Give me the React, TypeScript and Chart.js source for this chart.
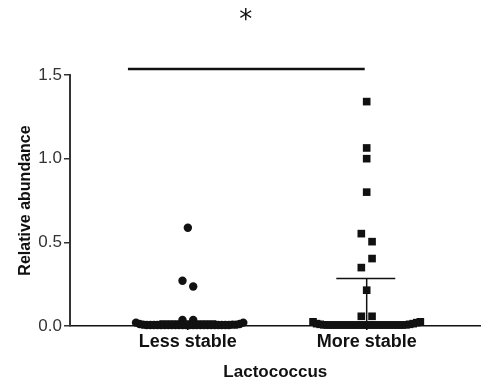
import React, { useEffect, useRef } from "react";
import { Chart, registerables } from "chart.js";

Chart.register(...registerables);

const categories = ["Less stable", "More stable"];
const categoryPositions = [1, 2];

// Less stable group (circles)
const lessStableX = [
  1.0, 0.97, 1.03, 0.97, 1.03,
  0.71, 0.73, 0.75, 0.77, 0.79, 0.81, 0.83, 0.85, 0.87, 0.89, 0.91, 0.93, 0.95, 0.97, 0.99, 1.01,
  1.03, 1.05, 1.07, 1.09, 1.11, 1.13, 1.15, 1.17, 1.19, 1.21, 1.23, 1.25, 1.27, 1.29, 1.31,
];
const lessStableY = [
  0.587, 0.27, 0.236, 0.036, 0.036,
  0.02, 0.012, 0.008, 0.006, 0.006, 0.006, 0.006, 0.006, 0.006, 0.006, 0.006, 0.006, 0.006, 0.006, 0.006, 0.006,
  0.006, 0.006, 0.006, 0.006, 0.006, 0.006, 0.006, 0.006, 0.006, 0.006, 0.006, 0.008, 0.008, 0.012, 0.02,
];

// More stable group (squares)
const moreStableX = [
  2.0, 2.0, 2.0, 2.0, 1.97, 2.03, 2.03, 1.97, 2.0, 1.97, 2.03,
  1.7, 1.72, 1.74, 1.76, 1.78, 1.8, 1.82, 1.84, 1.86, 1.88, 1.9, 1.92, 1.94, 1.96, 1.98, 2.0,
  2.02, 2.04, 2.06, 2.08, 2.1, 2.12, 2.14, 2.16, 2.18, 2.2, 2.22, 2.24, 2.26, 2.28, 2.3,
];
const moreStableY = [
  1.341, 1.064, 1.0, 0.8, 0.552, 0.504, 0.403, 0.349, 0.214, 0.058, 0.058,
  0.025, 0.014, 0.01, 0.007, 0.006, 0.006, 0.006, 0.006, 0.006, 0.006, 0.006, 0.006, 0.006, 0.006, 0.006, 0.006,
  0.006, 0.006, 0.006, 0.006, 0.006, 0.006, 0.006, 0.006, 0.006, 0.006, 0.007, 0.01, 0.014, 0.02, 0.025,
];

// Mean / error bars
const lessMean = 0.03;
const lessMeanX = [0.84, 1.16];
const lessWhisker = [0.03, -0.02];
const moreMean = 0.284;
const moreMeanX = [1.83, 2.16];
const moreWhisker = [0.284, -0.02];

// Significance annotation
const sigBarX = [0.665, 1.989];
const sigBarY = 1.536;
const asteriskPos = { x: 1.324, y: 1.859, text: "*" };

const yTicks = { min: 0, max: 1.5, step: 0.5 };
const xRange = { min: 0.341, max: 2.637 };

const INK = "#111";

export default function App() {
  const ref = useRef<HTMLCanvasElement>(null);

  useEffect(() => {
    if (!ref.current) return;
    const asteriskPlugin = {
      id: "asterisk",
      afterDatasetsDraw(chart: any) {
        const { ctx, scales } = chart;
        const px = scales.x.getPixelForValue(asteriskPos.x);
        const py = scales.y.getPixelForValue(asteriskPos.y);
        ctx.save();
        ctx.fillStyle = INK;
        ctx.font = '26px "DejaVu Sans"';
        ctx.textAlign = "center";
        ctx.textBaseline = "middle";
        ctx.fillText(asteriskPos.text, px, py + 6);
        ctx.restore();
      },
    };

    const lineDs = (pts: { x: number; y: number }[], w: number) => ({
      type: "line" as const,
      data: pts,
      showLine: true,
      borderColor: INK,
      backgroundColor: INK,
      borderWidth: w,
      pointRadius: 0,
      clip: false as any,
    });

    const chart = new Chart(ref.current, {
      type: "scatter",
      data: {
        datasets: [
          lineDs(
            [
              { x: lessMeanX[0], y: lessMean },
              { x: lessMeanX[1], y: lessMean },
            ],
            1.5
          ),
          lineDs(
            [
              { x: categoryPositions[0], y: lessWhisker[0] },
              { x: categoryPositions[0], y: lessWhisker[1] },
            ],
            1.5
          ),
          lineDs(
            [
              { x: moreMeanX[0], y: moreMean },
              { x: moreMeanX[1], y: moreMean },
            ],
            1.5
          ),
          lineDs(
            [
              { x: categoryPositions[1], y: moreWhisker[0] },
              { x: categoryPositions[1], y: moreWhisker[1] },
            ],
            1.5
          ),
          lineDs(
            [
              { x: sigBarX[0], y: sigBarY },
              { x: sigBarX[1], y: sigBarY },
            ],
            2.5
          ),
          {
            label: categories[0],
            data: lessStableX.map((x, i) => ({ x, y: lessStableY[i] })),
            pointStyle: "circle",
            pointRadius: 4.2,
            backgroundColor: INK,
            borderColor: INK,
            borderWidth: 0,
            clip: false as any,
          },
          {
            label: categories[1],
            data: moreStableX.map((x, i) => ({ x, y: moreStableY[i] })),
            pointStyle: "rect",
            pointRadius: 5.4,
            backgroundColor: INK,
            borderColor: INK,
            borderWidth: 0,
            clip: false as any,
          },
        ],
      },
      options: {
        animation: false,
        responsive: false,
        maintainAspectRatio: false,
        layout: { padding: { top: 75, right: 0, left: 0, bottom: 0 } },
        plugins: {
          legend: { display: false },
          tooltip: { enabled: false },
        },
        scales: {
          x: {
            type: "linear",
            min: xRange.min,
            max: xRange.max,
            afterFit: (s: any) => {
              s.height = 61;
            },
            afterBuildTicks: (axis: any) => {
              axis.ticks = categoryPositions.map((v) => ({ value: v }));
            },
            grid: {
              display: true,
              drawOnChartArea: false,
              drawTicks: true,
              tickLength: 4,
              color: INK,
              lineWidth: 1.5,
            },
            border: { display: true, color: INK, width: 1.5 },
            ticks: {
              autoSkip: false,
              maxRotation: 0,
              padding: 1,
              color: INK,
              font: { family: "'Liberation Sans', Arial, sans-serif", size: 18, weight: "bold" },
              callback: (v: any) => {
                const i = categoryPositions.indexOf(Number(v));
                return i >= 0 ? categories[i] : "";
              },
            },
            title: {
              display: true,
              text: "Lactococcus",
              color: INK,
              padding: { top: 4, bottom: 4 },
              font: { family: "'Liberation Sans', Arial, sans-serif", size: 17, weight: "bold" },
            },
          },
          y: {
            type: "linear",
            min: yTicks.min,
            max: yTicks.max,
            afterFit: (s: any) => {
              s.width = 70;
            },
            grid: {
              display: true,
              drawOnChartArea: false,
              drawTicks: true,
              tickLength: 6,
              color: "#333",
              lineWidth: 1.5,
            },
            border: { display: true, color: "#333", width: 2 },
            ticks: {
              stepSize: yTicks.step,
              padding: 2,
              color: "#333",
              font: { family: "'Liberation Sans', Arial, sans-serif", size: 17 },
              callback: (v: any) => Number(v).toFixed(1),
            },
            title: {
              display: true,
              text: "Relative abundance",
              color: INK,
              padding: { top: 16, bottom: 4 },
              font: { family: "'Liberation Sans', Arial, sans-serif", size: 16, weight: "bold" },
            },
          },
        },
      },
      plugins: [asteriskPlugin],
    } as any);

    return () => chart.destroy();
  }, []);

  return (
    <div
      style={{
        position: "absolute",
        left: 0,
        top: 0,
        width: 481,
        height: 387,
        overflow: "hidden",
        background: "#fff",
      }}
    >
      <canvas ref={ref} width={486} height={387} style={{ display: "block" }} />
    </div>
  );
}
